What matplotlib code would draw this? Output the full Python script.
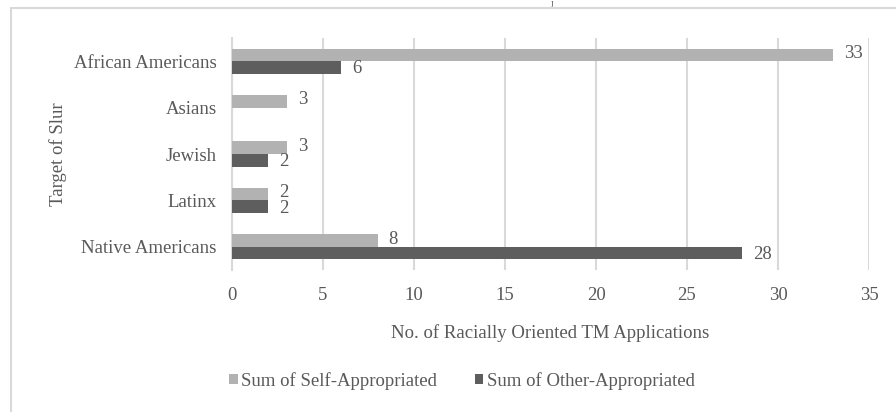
import matplotlib
matplotlib.use("Agg")
import matplotlib.pyplot as plt
from matplotlib.patches import Rectangle
import numpy as np

categories = ["African Americans", "Asians", "Jewish", "Latinx", "Native Americans"]
self_appropriated = [33, 3, 3, 2, 8]
other_appropriated = [6, 0, 2, 2, 28]
x_ticks = [0, 5, 10, 15, 20, 25, 30, 35]

plt.rcParams['font.family'] = ['Liberation Serif', 'DejaVu Serif']
text_color = '#595959'
light = '#b2b2b2'
dark = '#5e5e5e'
grid_color = '#d9d9d9'
fs = 13.5

fig = plt.figure(figsize=(8.96, 4.12), dpi=100)
W, H = 896, 412
ax = fig.add_axes([232 / W, 1 - 270 / H, (869 - 232) / W, (270 - 38) / H])

y = np.arange(len(categories))
h = 0.27
bars1 = ax.barh(y - h / 2, self_appropriated, height=h, color=light, label='Sum of Self-Appropriated', zorder=3)
bars2 = ax.barh(y + h / 2, other_appropriated, height=h, color=dark, label='Sum of Other-Appropriated', zorder=3)

for bars, vals, dy in ((bars1, self_appropriated, 1), (bars2, other_appropriated, -1)):
    for b, v in zip(bars, vals):
        if v == 0:
            continue
        ax.annotate(str(v), (v, b.get_y() + b.get_height() / 2), xytext=(8, dy),
                    textcoords='offset points', va='center', ha='left',
                    fontsize=fs, color=text_color, zorder=4)

ax.set_xlim(0, 35)
ax.set_ylim(len(categories) - 0.5, -0.5)
ax.set_xticks(x_ticks)
ax.set_yticks(y)
ax.set_yticklabels(categories)
ax.tick_params(axis='both', length=0, labelsize=fs, colors=text_color)
ax.tick_params(axis='x', pad=12)
ax.tick_params(axis='y', pad=11)
ax.xaxis.grid(True, color=grid_color, linewidth=1.5, zorder=0)
for s in ['top', 'right', 'bottom']:
    ax.spines[s].set_visible(False)
ax.spines['left'].set_color(grid_color)
ax.spines['left'].set_linewidth(1.5)
ax.set_xlabel('No. of Racially Oriented TM Applications', fontsize=fs, color=text_color, labelpad=14.5)
ax.set_ylabel('Target of Slur', fontsize=fs, color=text_color, labelpad=5)

leg = fig.legend(handles=[bars1, bars2], loc='center', bbox_to_anchor=(462 / W, 1 - 381 / H),
                 ncol=2, frameon=False, fontsize=fs, handlelength=0.45, handleheight=0.45,
                 handletextpad=0.2, columnspacing=2.0)
for t in leg.get_texts():
    t.set_color(text_color)

fig.patches.append(Rectangle((11 / W, -0.1), 1.2, 1 - 8 / H + 0.1, transform=fig.transFigure,
                             fill=False, edgecolor=grid_color, linewidth=1.5))
fig.text(552 / W, 1 - 0.5 / H, ']', ha='center', va='top', fontsize=5, color='#262626')

fig.savefig('out.png', dpi=100)
